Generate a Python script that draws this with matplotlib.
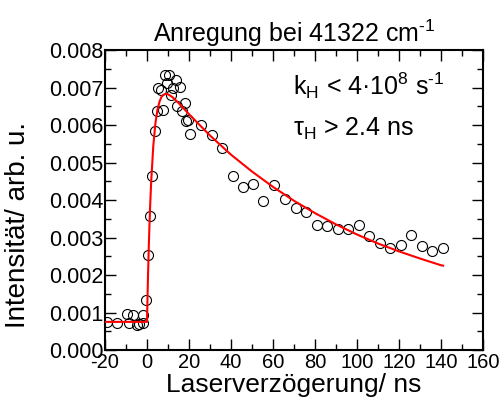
import matplotlib
matplotlib.use("Agg")
import matplotlib.pyplot as plt
from matplotlib.ticker import MultipleLocator, FormatStrFormatter

plt.rcParams["font.family"] = ["Liberation Sans", "DejaVu Sans"]
plt.rcParams["mathtext.fontset"] = "custom"
plt.rcParams["mathtext.rm"] = "Liberation Sans"
plt.rcParams["mathtext.it"] = "Liberation Sans"
plt.rcParams["axes.unicode_minus"] = False

HYPHEN = "\u2010"

# measured points (delay in ns, intensity)
delay = [-19.2, -14.1, -9.7, -8.4, -6.5, -4.9, -3.7, -2.0, -1.8, -0.5,
         0.5, 1.4, 2.4, 3.7, 4.6, 5.2, 6.5, 7.5, 8.7, 9.7,
         10.6, 11.6, 12.5, 13.8, 14.4, 15.7, 16.7, 17.9, 18.6, 19.5,
         20.5, 25.6, 31.0, 35.7, 40.8, 45.9, 50.6, 55.4, 60.5, 65.7,
         70.8, 75.7, 80.8, 85.9, 90.8, 95.9, 101.0, 105.9, 111.0, 115.9,
         120.8, 125.7, 130.8, 135.9, 140.8]
intensity = [0.00076, 0.00073, 0.00096, 0.00073, 0.00093, 0.00067, 0.00069, 0.00073, 0.00093, 0.00133,
             0.00253, 0.00357, 0.00464, 0.00583, 0.00637, 0.00699, 0.00693, 0.00640, 0.00733, 0.00711,
             0.00734, 0.00679, 0.00699, 0.00720, 0.00651, 0.00702, 0.00637, 0.00658, 0.00611, 0.00613,
             0.00575, 0.00599, 0.00573, 0.00538, 0.00464, 0.00434, 0.00443, 0.00398, 0.00439, 0.00403,
             0.00380, 0.00367, 0.00334, 0.00332, 0.00324, 0.00324, 0.00333, 0.00304, 0.00286, 0.00272,
             0.00281, 0.00308, 0.00278, 0.00265, 0.00272]

# fitted curve
fit_t = [-20, 0, 0.5, 1, 1.5, 2, 3, 4, 5, 6, 7, 8, 9, 10, 12, 15, 20,
         30, 40, 50, 60, 70, 80, 90, 100, 110, 120, 130, 140, 141]
fit_y = [0.00075, 0.00075, 0.00201, 0.00302, 0.00384, 0.00449, 0.00544, 0.00604,
         0.00641, 0.00663, 0.00676, 0.00681, 0.00683, 0.00682, 0.00675, 0.00659,
         0.00629, 0.00572, 0.00521, 0.00476, 0.00435, 0.00398, 0.00365, 0.00335,
         0.00308, 0.00284, 0.00263, 0.00244, 0.00226, 0.00225]

fig = plt.figure(figsize=(5.04, 4.05), dpi=100)
ax = fig.add_axes([0.2083, 0.1358, 0.75, 0.7407])

ax.plot(delay, intensity, "o", mfc="none", mec="black", ms=7.2, mew=0.8, zorder=2)
ax.plot(fit_t, fit_y, color="red", lw=1.5, zorder=3)

ax.set_xlim(-20, 160)
ax.set_ylim(0, 0.008)
ax.xaxis.set_major_locator(MultipleLocator(20))
ax.xaxis.set_minor_locator(MultipleLocator(10))
ax.yaxis.set_major_locator(MultipleLocator(0.001))
ax.yaxis.set_minor_locator(MultipleLocator(0.0005))
ax.yaxis.set_major_formatter(FormatStrFormatter("%.3f"))

ax.tick_params(which="both", direction="in", top=True, right=True, width=1, pad=2)
ax.tick_params(axis="x", labelsize=14.5)
ax.tick_params(axis="y", labelsize=15.5, pad=1)
ax.tick_params(which="major", length=8)
ax.tick_params(which="minor", length=4.5)
for s in ax.spines.values():
    s.set_linewidth(1.5)

ax.set_xlabel("Laserverzögerung/ ns", fontsize=19, labelpad=1)
ax.set_ylabel("Intensität/ arb. u.", fontsize=20)
ax.yaxis.set_label_coords(-0.195, 0.417)
ax.set_title("Anregung bei 41322 cm$^{" + HYPHEN + "1}$", fontsize=18, pad=6)

ax.text(69.5, 0.0068, r"k$_{\rm H}$ < 4·10$^8$ s$^{" + HYPHEN + "1}$", fontsize=18)
ax.text(69.5, 0.00571, r"τ$_{\rm H}$ > 2.4 ns", fontsize=18)

fig.savefig("out.png", dpi=100)
